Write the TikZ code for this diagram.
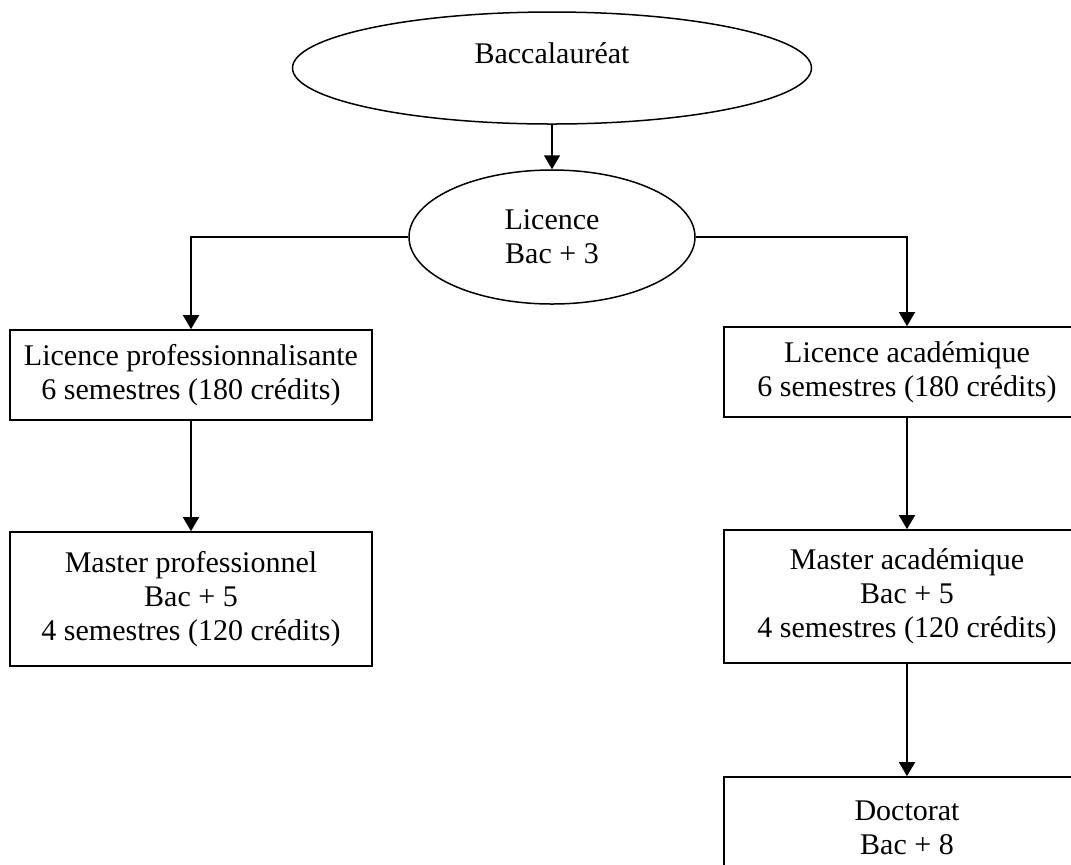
\documentclass[tikz,border=0pt]{standalone}
\usepackage{fontspec}
\setmainfont{Liberation Serif}
\usetikzlibrary{shapes.geometric,arrows.meta}

\begin{document}
\begin{tikzpicture}[x=0.5pt, y=-0.5pt,
  every node/.style={font=\fontsize{15}{17}\selectfont},
  oval/.style={draw, ellipse, line width=0.75pt, inner sep=0pt, align=center},
  cadre/.style={draw, rectangle, line width=0.85pt, minimum width=181pt, align=center},
  fleche/.style={line width=0.75pt, -{Triangle[width=8pt,length=7pt]}}]
% Frame
\useasboundingbox (0,0) rectangle (1071,864);
\clip (0,0) rectangle (1071,864);

% Ellipses
\node[oval, minimum width=259.5pt, minimum height=56pt, text height=10pt, text depth=15pt] (bac) at (552,68) {Baccalauréat};
\node[oval, minimum width=143pt, minimum height=67pt] (lic) at (552,237) {Licence\\Bac + 3};

% Left branch
\node[cadre, minimum height=45pt] (lpro) at (191,375) {Licence professionnalisante\\6 semestres (180 crédits)};
\node[cadre, minimum height=67pt] (mpro) at (191,599) {Master professionnel\\Bac + 5\\4 semestres (120 crédits)};

% Right branch
\node[cadre, minimum width=183pt, minimum height=45pt] (laca) at (907,372) {Licence académique\\6 semestres (180 crédits)};
\node[cadre, minimum width=183pt, minimum height=66.5pt] (maca) at (907,596.5) {Master académique\\Bac + 5\\4 semestres (120 crédits)};
\node[cadre, minimum width=183pt, minimum height=51pt] (doc) at (907,828) {Doctorat\\Bac + 8};

% Arrows
\draw[fleche] (bac) -- (lic);
\draw[fleche] (lic.west) -| (lpro.north);
\draw[fleche] (lic.east) -| (laca.north);
\draw[fleche] (lpro) -- (mpro);
\draw[fleche] (laca) -- (maca);
\draw[fleche] (maca) -- (doc);

\end{tikzpicture}
\end{document}
